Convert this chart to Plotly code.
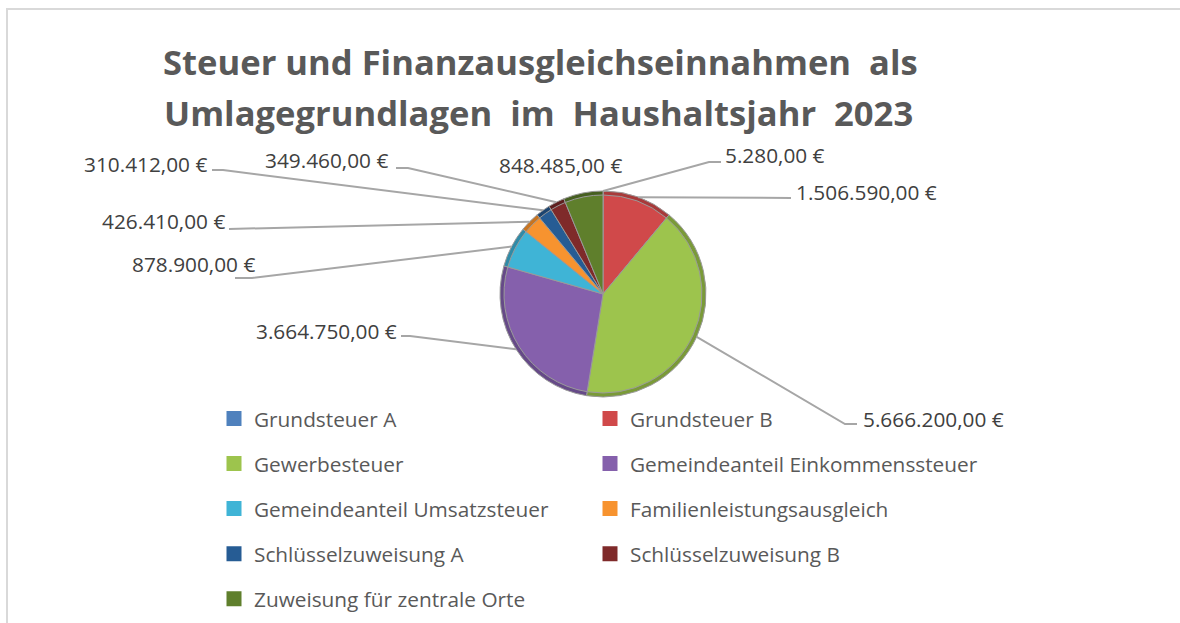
import math
import plotly.graph_objects as go

categories = ["Grundsteuer A", "Grundsteuer B", "Gewerbesteuer", "Gemeindeanteil Einkommenssteuer",
              "Gemeindeanteil Umsatzsteuer", "Familienleistungsausgleich", "Schlüsselzuweisung A",
              "Schlüsselzuweisung B", "Zuweisung für zentrale Orte"]
values = [5280, 1506590, 5666200, 3664750, 878900, 426410, 310412, 349460, 848485]
value_labels = ["5.280,00 €", "1.506.590,00 €", "5.666.200,00 €", "3.664.750,00 €", "878.900,00 €",
                "426.410,00 €", "310.412,00 €", "349.460,00 €", "848.485,00 €"]
colors = ["#4f81bd", "#d0494a", "#9dc44d", "#8560ac", "#3fb4d6", "#f7932f", "#265c94", "#7f2a2a", "#5f7f2c"]
rim_colors = ["#3a6290", "#a83a3a", "#7a9a38", "#664a88", "#2f8ba8", "#c87420", "#1c4470", "#5e1f1f", "#465f20"]

W, H = 1180, 623
CX, CY, R = 603, 294, 103
FONT = "Open Sans"
TXT = "#404040"
LABEL_SIZE = 20.8

def fx(px): return px / W
def fy(py): return 1 - py / H

fig = go.Figure()

def dom(r):
    return dict(x=[fx(CX - r), fx(CX + r)], y=[fy(CY + r), fy(CY - r)])

fig.add_trace(go.Pie(labels=categories, values=values, sort=False, direction="clockwise", rotation=0,
                     marker=dict(colors=rim_colors, line=dict(color="#9a9a9a", width=1)),
                     textinfo="none", hoverinfo="label+value", showlegend=False, domain=dom(R)))
fig.add_trace(go.Pie(labels=categories, values=values, sort=False, direction="clockwise", rotation=0,
                     marker=dict(colors=colors, line=dict(color="#9a9a9a", width=1)),
                     textinfo="none", hoverinfo="label+value", showlegend=False, domain=dom(R - 4)))

# Legend: two columns, one entry per group so the row gap can be set
for i, (c, col) in enumerate(zip(categories, colors)):
    fig.add_trace(go.Scatter(x=[None], y=[None], mode="markers", name=c,
                             marker=dict(symbol="square", size=15, color=col),
                             legend="legend" if i % 2 == 0 else "legend2", legendgroup=c,
                             hoverinfo="skip"))

legend_style = dict(font=dict(family=FONT, size=20.8, color="#595959"), tracegroupgap=15,
                    orientation="v", bgcolor="rgba(0,0,0,0)", xanchor="left", yanchor="top",
                    itemclick=False, itemdoubleclick=False, traceorder="grouped")

# Leader layout: label edge point, elbow (pixels); label anchor position and side
leaders = [
    ((709, 162), (721, 162), 723, 155, "left"),
    (None, (791, 198), 794, 192, "left"),
    ((845, 424), (857, 424), 861, 419, "left"),
    ((410, 336), (401, 336), 399, 331, "right"),
    ((252, 278), (235, 278), 257, 264, "right"),
    (None, (229, 229), 227, 221, "right"),
    ((223, 170), (212, 170), 209, 164, "right"),
    ((408, 168), (396, 168), 390, 160, "right"),
    None,
]

total = sum(values)
shapes = []
annotations = []
cum = 0
for v, lab, lead in zip(values, value_labels, leaders):
    ang = (cum + v / 2) / total * 2 * math.pi
    cum += v
    ax_, ay_ = CX + R * math.sin(ang), CY - R * math.cos(ang)
    if lead is None:
        annotations.append(dict(text=lab, x=fx(560), y=fy(165), xref="paper", yref="paper", xanchor="center",
                                yanchor="middle", showarrow=False, font=dict(family=FONT, size=LABEL_SIZE, color=TXT)))
        continue
    elbow, end, lx, ly, side = lead
    pts = [(ax_, ay_)] + ([elbow] if elbow else []) + [end]
    path = "M " + " L ".join(f"{fx(a):.5f} {fy(b):.5f}" for a, b in pts)
    shapes.append(dict(type="path", path=path, xref="paper", yref="paper",
                       line=dict(color="#a6a6a6", width=2)))
    annotations.append(dict(text=lab, x=fx(lx), y=fy(ly), xref="paper", yref="paper", xanchor=side,
                            yanchor="middle", showarrow=False, font=dict(family=FONT, size=LABEL_SIZE, color=TXT)))

annotations.append(dict(text="Steuer und Finanzausgleichseinnahmen  als", x=fx(540), y=fy(61), xref="paper",
                        yref="paper", xanchor="center", yanchor="middle", showarrow=False,
                        font=dict(family=FONT, size=34.6, color="#595959", weight="bold")))
annotations.append(dict(text="Umlagegrundlagen  im  Haushaltsjahr  2023", x=fx(538), y=fy(112), xref="paper",
                        yref="paper", xanchor="center", yanchor="middle", showarrow=False,
                        font=dict(family=FONT, size=34.6, color="#595959", weight="bold")))

# Chart frame: left and top edges only are visible
frame = "M " + " L ".join(f"{fx(a):.5f} {fy(b):.5f}" for a, b in [(7, 623), (7, 9), (1180, 9)])
shapes.append(dict(type="path", path=frame, xref="paper", yref="paper", line=dict(color="#d9d9d9", width=2)))

fig.update_layout(
    width=W, height=H, margin=dict(l=0, r=0, t=0, b=0, autoexpand=False),
    paper_bgcolor="white", plot_bgcolor="white",
    xaxis=dict(visible=False), yaxis=dict(visible=False),
    shapes=shapes, annotations=annotations, showlegend=True,
    legend=dict(x=fx(214), y=fy(398.5), **legend_style),
    legend2=dict(x=fx(590), y=fy(398.5), **legend_style),
)

fig.write_html("out.html", config=dict(displayModeBar=False),
               post_script="document.body.style.margin='0';document.body.style.overflow='hidden';")
